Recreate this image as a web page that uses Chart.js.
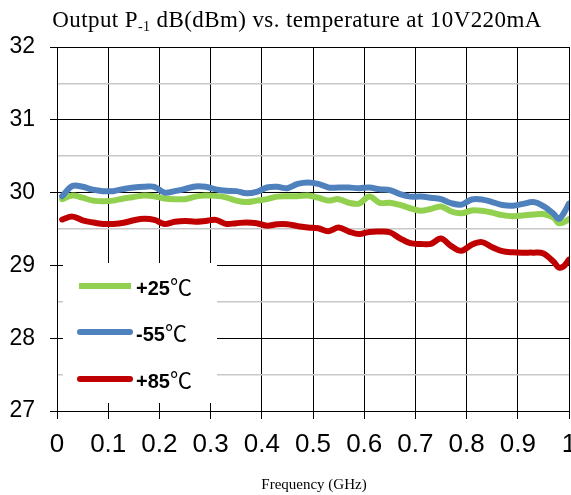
<!DOCTYPE html>
<html><head><meta charset="utf-8">
<script src="https://cdn.jsdelivr.net/npm/chart.js@4"></script>
<style>html,body{margin:0;padding:0;background:#fff}canvas{display:block}</style>
</head><body>
<canvas id="c" width="571" height="495"></canvas>
<script>
const freq = [0.01,0.03,0.05,0.07,0.09,0.11,0.13,0.15,0.17,0.19,0.21,0.23,0.25,0.27,0.29,0.31,0.33,0.35,0.37,0.39,0.41,0.43,0.45,0.47,0.49,0.51,0.53,0.55,0.57,0.59,0.61,0.63,0.65,0.67,0.69,0.71,0.73,0.75,0.77,0.79,0.81,0.83,0.85,0.87,0.89,0.91,0.93,0.95,0.97,0.98,0.99,1.00];
const p25 = [29.91,29.96,29.93,29.89,29.88,29.89,29.92,29.94,29.96,29.95,29.92,29.91,29.91,29.945,29.96,29.955,29.935,29.89,29.87,29.89,29.91,29.945,29.95,29.95,29.96,29.93,29.89,29.91,29.86,29.85,29.945,29.86,29.86,29.83,29.785,29.75,29.775,29.81,29.74,29.715,29.755,29.75,29.725,29.69,29.675,29.685,29.70,29.705,29.655,29.58,29.595,29.635];
const m55 = [29.95,30.09,30.08,30.04,30.02,30.02,30.05,30.07,30.08,30.08,30.00,30.02,30.05,30.085,30.08,30.045,30.025,30.02,29.99,30.01,30.07,30.08,30.06,30.12,30.14,30.12,30.07,30.07,30.07,30.06,30.07,30.045,30.035,29.98,29.945,29.945,29.93,29.91,29.855,29.835,29.905,29.905,29.87,29.83,29.82,29.845,29.87,29.815,29.71,29.64,29.72,29.85];
const p85 = [29.63,29.67,29.62,29.59,29.57,29.57,29.585,29.62,29.64,29.625,29.57,29.60,29.61,29.60,29.61,29.625,29.57,29.58,29.59,29.58,29.545,29.565,29.565,29.54,29.52,29.51,29.47,29.52,29.465,29.43,29.46,29.465,29.455,29.37,29.305,29.295,29.295,29.37,29.265,29.20,29.285,29.32,29.25,29.195,29.18,29.175,29.175,29.165,29.05,28.97,28.99,29.08];
const seriesLabels = ['+25℃','-55℃','+85℃'];
const seriesColors = ['#92D050','#4F81BD','#C00000'];
const xTickLabels = ['0','0.1','0.2','0.3','0.4','0.5','0.6','0.7','0.8','0.9','1'];
const titleMain = 'Output P';
const titleSub = '-1';
const titleRest = ' dB(dBm) vs. temperature at 10V220mA';
const xAxisTitle = 'Frequency (GHz)';

const isMajor = ctx => ctx.tick && Number.isInteger(ctx.tick.value);

function mk(i, data, order) {
  return {
    label: seriesLabels[i],
    data: freq.map((f, k) => ({x: f, y: data[k]})),
    borderColor: seriesColors[i],
    backgroundColor: seriesColors[i],
    borderWidth: 6,
    pointRadius: 0,
    tension: 0.35,
    fill: false,
    order: order,
    borderCapStyle: 'round',
    borderJoinStyle: 'round'
  };
}

const overlay = {
  id: 'overlay',
  afterDraw(chart) {
    const ctx = chart.ctx;
    ctx.save();
    // title
    ctx.fillStyle = '#000';
    ctx.textBaseline = 'alphabetic';
    ctx.textAlign = 'left';
    const fMain = '23px "Liberation Serif", "Times New Roman", serif';
    const fSub = '14px "Liberation Serif", "Times New Roman", serif';
    try { ctx.letterSpacing = '0.4px'; } catch (e) {}
    ctx.font = fMain;
    const w1 = ctx.measureText(titleMain).width;
    const w3 = ctx.measureText(titleRest).width;
    ctx.font = fSub;
    const w2 = ctx.measureText(titleSub).width;
    let tx = 297 - (w1 + w2 + w3) / 2;
    const ty = 27;
    ctx.font = fMain; ctx.fillText(titleMain, tx, ty); tx += w1;
    ctx.font = fSub; ctx.fillText(titleSub, tx, ty + 4); tx += w2;
    ctx.font = fMain; ctx.fillText(titleRest, tx, ty);
    try { ctx.letterSpacing = '0px'; } catch (e) {}
    // x axis title
    ctx.font = '15px "Liberation Serif", "Times New Roman", serif';
    ctx.textAlign = 'center';
    ctx.fillText(xAxisTitle, 314, 489);
    // legend
    ctx.fillStyle = '#fff';
    ctx.fillRect(63, 263, 154, 140);
    const ys = [286, 332, 379];
    for (let i = 0; i < 3; i++) {
      const ds = chart.data.datasets[i];
      ctx.strokeStyle = ds.borderColor;
      ctx.lineWidth = 6;
      ctx.lineCap = i === 0 ? 'butt' : 'round';
      ctx.beginPath();
      ctx.moveTo(i === 0 ? 79 : 80, ys[i]);
      ctx.lineTo(i === 0 ? 131 : 130, ys[i]);
      ctx.stroke();
      const lab = ds.label;
      const num = lab.replace('℃', '');
      ctx.fillStyle = '#000';
      ctx.textAlign = 'left';
      ctx.font = 'bold 20px "Liberation Sans", Arial, sans-serif';
      ctx.fillText(num, 136, ys[i] + 9);
      const nw = ctx.measureText(num).width;
      ctx.font = '22px "Noto Sans CJK SC", "DejaVu Sans", sans-serif';
      ctx.fillText('℃', 136 + nw, ys[i] + 9);
    }
    ctx.restore();
  }
};

new Chart(document.getElementById('c'), {
  type: 'line',
  data: { datasets: [mk(0, p25, 2), mk(1, m55, 1), mk(2, p85, 3)] },
  plugins: [overlay],
  options: {
    responsive: false,
    animation: false,
    devicePixelRatio: 1,
    layout: { padding: { top: 47, right: 2, left: 0, bottom: 0 } },
    plugins: { legend: { display: false }, title: { display: false }, tooltip: { enabled: false } },
    scales: {
      x: {
        type: 'linear', min: 0, max: 1,
        ticks: { stepSize: 0.1, autoSkip: false, maxRotation: 0, color: '#000', padding: 10,
          font: { family: '"Liberation Sans", Arial, sans-serif', size: 26 },
          callback: (v, i) => xTickLabels[i] },
        grid: { color: '#000', lineWidth: 1, tickLength: 8, tickColor: '#000' },
        border: { color: '#000', width: 1 },
        afterFit(s) { s.height = 84; s.paddingLeft = 0; s.paddingRight = 0; }
      },
      y: {
        type: 'linear', min: 27, max: 32,
        ticks: { stepSize: 0.5, autoSkip: false, color: '#000', padding: 15,
          font: { family: '"Liberation Sans", Arial, sans-serif', size: 23 },
          callback: v => Number.isInteger(v) ? String(v) : '' },
        grid: {
          color: ctx => isMajor(ctx) ? '#000' : '#c8c8c8',
          lineWidth: ctx => isMajor(ctx) ? 1 : 1.5,
          tickLength: 7,
          tickColor: ctx => isMajor(ctx) ? '#000' : 'rgba(0,0,0,0)'
        },
        border: { color: '#000', width: 1 },
        afterFit(s) { s.width = 57; s.paddingTop = 0; s.paddingBottom = 0; }
      }
    }
  }
});
</script>
</body></html>
